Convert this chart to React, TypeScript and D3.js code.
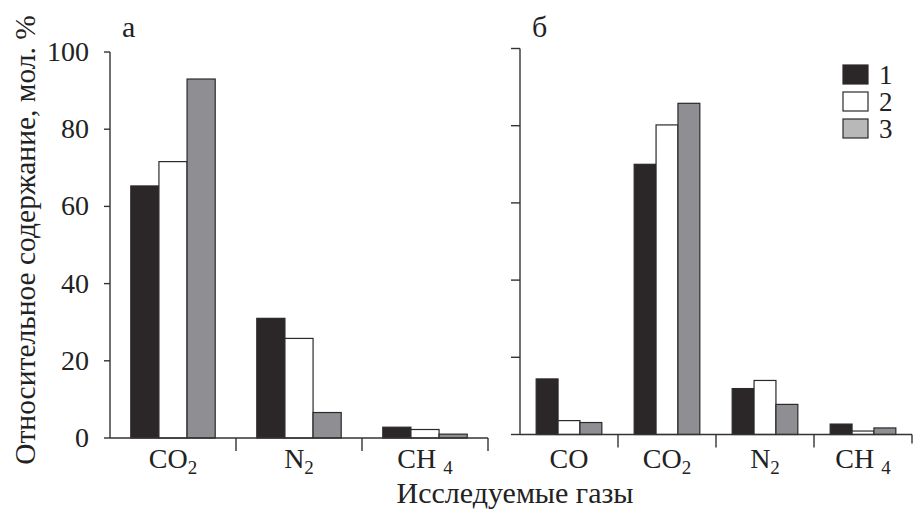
import React from "react";
import * as d3 from "d3";

const seriesNames = ["1", "2", "3"];
const seriesFill = ["#2b2728", "#ffffff", "#8f8f93"];
const legendFill = ["#2b2728", "#ffffff", "#b8b8b8"];

const catsA = [
  { main: "CO", sub: "2", gap: false },
  { main: "N", sub: "2", gap: false },
  { main: "CH", sub: "4", gap: true },
];
const valuesA = [
  [65.3, 71.6, 93.0],
  [31.0, 25.8, 6.6],
  [2.8, 2.2, 1.0],
];

const catsB = [
  { main: "CO", sub: "", gap: false },
  { main: "CO", sub: "2", gap: false },
  { main: "N", sub: "2", gap: false },
  { main: "CH", sub: "4", gap: true },
];
const valuesB = [
  [14.4, 3.6, 3.1],
  [70.0, 80.2, 85.8],
  [11.9, 14.0, 7.8],
  [2.7, 0.9, 1.7],
];

const yTicks = [0, 20, 40, 60, 80, 100];

const FONT = "Liberation Serif";
const AX = "#333";
const TXT = "#222";

type Cat = { main: string; sub: string; gap: boolean };

function Panel(props: {
  cats: Cat[];
  values: number[][];
  x0: number;
  x1: number;
  y0: number;
  y100: number;
  tickLen: number;
  showLabels: boolean;
  endTick: number;
  letter: string;
}) {
  const { cats, values, x0, x1, y0, y100, tickLen, showLabels, endTick, letter } = props;
  const x = d3.scaleBand<number>().domain(cats.map((_, i) => i)).range([x0, x1]).padding(0);
  const y = d3.scaleLinear().domain([0, 100]).range([y0, y100]);
  const bw = x.bandwidth();
  const inner = d3
    .scaleBand<number>()
    .domain([0, 1, 2])
    .range([bw * 0.165, bw * 0.835])
    .padding(0);
  return (
    <g>
      <text x={x0 + 12} y={37} fontFamily={FONT} fontSize={30} fill={TXT}>
        {letter}
      </text>
      {values.map((row, ci) =>
        row.map((v, si) => (
          <rect
            key={ci + "-" + si}
            x={(x(ci) as number) + (inner(si) as number)}
            y={y(v)}
            width={inner.bandwidth()}
            height={y0 - y(v)}
            fill={seriesFill[si]}
            stroke="#2a2a2a"
            strokeWidth={1.2}
          />
        ))
      )}
      <line x1={x0} x2={x0} y1={y0} y2={y100} stroke={AX} strokeWidth={1.4} />
      <line x1={x0} x2={x1} y1={y0} y2={y0} stroke={AX} strokeWidth={1.4} />
      {yTicks.map((t) => (
        <g key={t}>
          <line x1={x0 - tickLen} x2={x0} y1={y(t)} y2={y(t)} stroke={AX} strokeWidth={1.4} />
          {showLabels && (
            <text
              x={89}
              y={y(t) + 9}
              textAnchor="end"
              fontFamily={FONT}
              fontSize={28}
              fill={TXT}
            >
              {t}
            </text>
          )}
        </g>
      ))}
      {cats.map((c, i) => {
        const bx = (x(i) as number) + bw;
        const isLast = i === cats.length - 1;
        return (
          <line
            key={"t" + i}
            x1={bx}
            x2={bx}
            y1={y0}
            y2={y0 + (isLast ? endTick : 13)}
            stroke={AX}
            strokeWidth={1.4}
          />
        );
      })}
      {cats.map((c, i) => (
        <text
          key={"c" + i}
          x={(x(i) as number) + bw / 2}
          y={468}
          textAnchor="middle"
          fontFamily={FONT}
          fontSize={28}
          fill={TXT}
        >
          {c.main}
          {c.sub && (
            <tspan dx={c.gap ? 7 : 0} dy={6} fontSize={19}>
              {c.sub}
            </tspan>
          )}
        </text>
      ))}
    </g>
  );
}

export default function App() {
  return (
    <svg
      width={923}
      height={513}
      style={{ position: "absolute", left: 0, top: 0, background: "#fff" }}
    >
      <rect x={0} y={0} width={923} height={513} fill="#fff" />
      <Panel
        cats={catsA}
        values={valuesA}
        x0={110}
        x1={488}
        y0={438}
        y100={52}
        tickLen={6}
        showLabels={true}
        endTick={13}
        letter="а"
      />
      <Panel
        cats={catsB}
        values={valuesB}
        x0={520}
        x1={912}
        y0={434.5}
        y100={48.5}
        tickLen={9}
        showLabels={false}
        endTick={9}
        letter="б"
      />
      {seriesNames.map((s, i) => (
        <g key={s}>
          <rect
            x={843}
            y={65 + i * 27}
            width={25}
            height={19}
            fill={legendFill[i]}
            stroke="#2a2a2a"
            strokeWidth={1.2}
          />
          <text x={879} y={84 + i * 27} fontFamily={FONT} fontSize={27} fill={TXT}>
            {s}
          </text>
        </g>
      ))}
      <text
        x={515}
        y={503}
        textAnchor="middle"
        fontFamily={FONT}
        fontSize={30}
        fill={TXT}
      >
        Исследуемые газы
      </text>
      <text
        transform="translate(35,240) rotate(-90)"
        textAnchor="middle"
        fontFamily={FONT}
        fontSize={29.5}
        fill={TXT}
      >
        Относительное содержание, мол. %
      </text>
    </svg>
  );
}
